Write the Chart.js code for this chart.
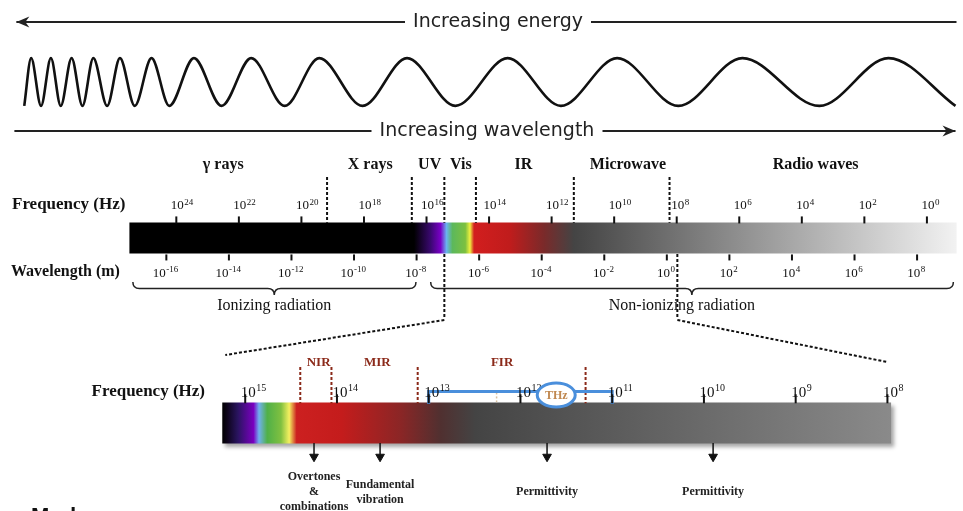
<!DOCTYPE html>
<html>
<head>
<meta charset="utf-8">
<script src="https://cdn.jsdelivr.net/npm/chart.js@4.4.1/dist/chart.umd.min.js"></script>
<style>
  html, body { margin: 0; padding: 0; background: #fff; }
  canvas { display: block; }
</style>
</head>
<body>
<canvas id="spectre" width="963" height="511"></canvas>
<script>
// --- data ---
// upper strip : decades in log10 Hz / log10 m
const freqTicks = [24, 22, 20, 18, 16, 14, 12, 10, 8, 6, 4, 2, 0];
const wavelengthTicks = [-16, -14, -12, -10, -8, -6, -4, -2, 0, 2, 4, 6, 8];
const bandNames = ['γ rays', 'X rays', 'UV', 'Vis', 'IR', 'Microwave', 'Radio waves'];
const bandCenters = [22.5, 17.8, 15.9, 14.9, 12.9, 9.56, 3.56];
const bandEdges = [19.18, 16.47, 15.43, 14.42, 11.29, 8.23];
const spectrumRange = [25.5, -0.95];
const spectrumStops = [25.5, 16.4, 15.87, 15.55, 15.36, 15.17, 14.76, 14.61, 14.48, 13.34, 12.24, 11.29, -0.95];
const zoomFrom = [15.43, 7.98];
const radiationNames = ['Ionizing radiation', 'Non-ionizing radiation'];
const ionizing = [-17.07, -8.02, -12.55];
const nonIonizing = [-7.55, 9.16, 0.8];

// lower strip (magnified), log10 Hz
const zoomTicks = [15, 14, 13, 12, 11, 10, 9, 8];
const zoomRange = [15.25, 7.96];
const zoomStops = [15.25, 15.2, 15.08, 14.91, 14.85, 14.76, 14.61, 14.52, 14.44, 13.95, 13.3, 12.87, 12.49, 7.96];
const irNames = ['NIR', 'MIR', 'FIR'];
const irCenters = [14.2, 13.56, 12.2];
const irEdges = [14.4, 14.06, 13.12, 11.29];
const thzRange = [13, 11];
const thzCenter = 11.61;
const thzFaint = 12.26;
const modeAt = [14.25, 13.53, 11.71, 9.9];
const modeNames = [['Overtones', '&', 'combinations'], ['Fundamental', 'vibration'], ['Permittivity'], ['Permittivity']];

// the wave : crest (1) and trough (0) positions across the page
const waveX = [18, 25, 35, 45, 55, 66, 77, 88, 102, 115, 130, 147, 165, 190, 218, 248, 282, 317, 361, 406, 455, 508, 562, 619, 681, 746, 824, 894, 962];
const waveLevel = [0, 1, 0, 1, 0, 1, 0, 1, 0, 1, 0, 1, 0, 1, 0, 1, 0, 1, 0, 1, 0, 1, 0, 1, 0, 1, 0, 1, 0];

// --- styles ---
const spectrumColors = ['#000', '#000', '#3a0870', '#7a00c8', '#6ab4f0', '#5cb85c', '#7cc040', '#f0f040', '#d21e1e', '#c01c1c', '#7a2a2a', '#444', '#f2f2f2'];
const zoomColors = ['#000', '#0c0418', '#2a1460', '#7a00c0', '#70b0f0', '#50b048', '#80c040', '#f4f060', '#cc2020', '#c41c1c', '#8a2626', '#503030', '#444', '#8a8a8a'];
const serif = '"Liberation Serif", "Times New Roman", serif';
const sans = '"DejaVu Sans", Verdana, sans-serif';
const brown = '#8b2a1a';
const blue = '#4a8fdc';

// rangées verticales (px depuis le haut)
const row = {
  energy: 22, waveTop: 53, waveBottom: 102, length: 131,
  bandLabel: 165, dashTop: 175, freqBase: 209, freqTick: 219,
  barTop: 222, barBottom: 253, waveTick: 257.5, waveBase: 277,
  braceTop: 282, braceLabel: 306, linkEnd: 320,
  zoomLeftY: 355, zoomRightY: 362,
  irLabel: 363, irTop: 370, thz: 395, zoomFreqBase: 397, zoomTick: 402.5,
  zoomTop: 407, zoomBottom: 448, arrowEnd: 462, modeLabel: 492
};

// gradient along a scale
function gradient(chart, scaleId, stops, colors) {
  const s = chart.scales[scaleId];
  if (!s || !chart.chartArea) return colors[0];
  const a = s.getPixelForValue(stops[0]);
  const b = s.getPixelForValue(stops[stops.length - 1]);
  const g = chart.ctx.createLinearGradient(a, 0, b, 0);
  stops.forEach((v, i) => g.addColorStop(Math.min(1, Math.max(0, (s.getPixelForValue(v) - a) / (b - a))), colors[i]));
  return g;
}

// segments verticaux séparés par des null
function verticals(xs, y0, y1) {
  return xs.flatMap(x => [{ x, y: y0 }, { x, y: y1 }, { x, y: null }]);
}

const datasets = [
  {
    label: 'spectrum', xAxisID: 'xf', order: 10,
    data: spectrumRange.map(x => ({ x, y: (row.barTop + row.barBottom) / 2 })),
    borderWidth: row.barBottom - row.barTop, borderCapStyle: 'butt', pointRadius: 0,
    borderColor: c => gradient(c.chart, 'xf', spectrumStops, spectrumColors)
  },
  {
    label: 'zoom', xAxisID: 'xl', order: 10, shadow: true,
    data: zoomRange.map(x => ({ x, y: (row.zoomTop + row.zoomBottom) / 2 })),
    borderWidth: row.zoomBottom - row.zoomTop, borderCapStyle: 'butt', pointRadius: 0,
    borderColor: c => gradient(c.chart, 'xl', zoomStops, zoomColors)
  },
  {
    label: 'wave', xAxisID: 'xp', order: 5,
    data: waveX.map((x, i) => ({ x, y: row.waveBottom - (row.waveBottom - row.waveTop) * waveLevel[i] })),
    borderColor: '#111', borderWidth: 2.6, pointRadius: 0, cubicInterpolationMode: 'monotone'
  },
  {
    label: 'freq ticks', xAxisID: 'xf', order: 1, showLine: false,
    data: freqTicks.map(x => ({ x, y: row.freqTick })),
    pointStyle: 'line', rotation: 90, radius: 3.5, borderWidth: 2, borderColor: '#111'
  },
  {
    label: 'wavelength ticks', xAxisID: 'xw', order: 1, showLine: false,
    data: wavelengthTicks.map(x => ({ x, y: row.waveTick })),
    pointStyle: 'line', rotation: 90, radius: 3, borderWidth: 2, borderColor: '#111'
  },
  {
    label: 'zoom ticks', xAxisID: 'xl', order: 1, showLine: false,
    data: zoomTicks.map(x => ({ x, y: row.zoomTick })),
    pointStyle: 'line', rotation: 90, radius: 4.5, borderWidth: 2, borderColor: '#111'
  },
  {
    label: 'band edges', xAxisID: 'xf', order: 2,
    data: verticals(bandEdges, row.dashTop, row.barTop),
    borderColor: '#111', borderWidth: 2, borderDash: [3, 2], pointRadius: 0, spanGaps: false
  },
  {
    label: 'zoom link', xAxisID: 'xf', order: 2,
    data: verticals(zoomFrom, row.barBottom + 1, row.linkEnd),
    borderColor: '#111', borderWidth: 2, borderDash: [3, 2], pointRadius: 0, spanGaps: false
  },
  {
    label: 'ir edges', xAxisID: 'xl', order: 2,
    data: verticals(irEdges, row.irTop, row.zoomTop),
    borderColor: brown, borderWidth: 2, borderDash: [3, 2], pointRadius: 0, spanGaps: false
  },
  {
    label: 'thz faint', xAxisID: 'xl', order: 2,
    data: verticals([thzFaint], row.thz + 1, row.zoomTop - 1),
    borderColor: '#d8c0a0', borderWidth: 1.5, borderDash: [2, 2], pointRadius: 0
  },
  {
    label: 'THz', xAxisID: 'xl', order: 1,
    data: [{ x: thzRange[0], y: row.zoomTop + 1 }, { x: thzRange[0], y: row.thz }, { x: thzRange[1], y: row.thz }, { x: thzRange[1], y: row.zoomTop + 1 }],
    borderColor: blue, borderWidth: 3, pointRadius: 0
  },
  {
    label: 'mode arrows', xAxisID: 'xl', order: 1,
    data: verticals(modeAt, row.zoomBottom, row.arrowEnd - 2),
    borderColor: '#111', borderWidth: 1.5, pointRadius: 0, spanGaps: false
  },
  {
    label: 'mode heads', xAxisID: 'xl', order: 1, showLine: false,
    data: modeAt.map(x => ({ x, y: row.arrowEnd })),
    pointStyle: 'triangle', rotation: 180, radius: 5, backgroundColor: '#111', borderColor: '#111', borderWidth: 1
  }
];

function power(ctx, x, yb, e, base, sup, raise, centerOnTen) {
  ctx.font = `${base}px ${serif}`;
  const w1 = ctx.measureText('10').width;
  ctx.font = `${sup}px ${serif}`;
  const es = String(e);
  const w2 = ctx.measureText(es).width;
  const x0 = centerOnTen ? x - w1 / 2 : x - (w1 + w2) / 2;
  ctx.textAlign = 'left';
  ctx.textBaseline = 'alphabetic';
  ctx.font = `${base}px ${serif}`;
  ctx.fillText('10', x0, yb);
  ctx.font = `${sup}px ${serif}`;
  ctx.fillText(es, x0 + w1 + 0.5, yb - raise);
}

function label(ctx, s, x, y, font, color, align) {
  ctx.font = font;
  ctx.fillStyle = color || '#111';
  ctx.textAlign = align || 'center';
  ctx.textBaseline = 'middle';
  ctx.fillText(s, x, y);
}

function brace(ctx, x1, x2, xm, y, h) {
  const r = h / 2;
  ctx.beginPath();
  ctx.moveTo(x1, y);
  ctx.quadraticCurveTo(x1, y + r, x1 + r, y + r);
  ctx.lineTo(xm - r, y + r);
  ctx.quadraticCurveTo(xm, y + r, xm, y + h);
  ctx.quadraticCurveTo(xm, y + r, xm + r, y + r);
  ctx.lineTo(x2 - r, y + r);
  ctx.quadraticCurveTo(x2, y + r, x2, y);
  ctx.stroke();
}

// flèche horizontale avec texte au milieu
function arrowText(ctx, s, x1, x2, cx, y, width, dir) {
  ctx.strokeStyle = '#222';
  ctx.fillStyle = '#222';
  ctx.lineWidth = 2;
  ctx.font = `20px ${sans}`;
  const size = 20 * width / ctx.measureText(s).width;
  ctx.font = `${size}px ${sans}`;
  ctx.beginPath();
  ctx.moveTo(x1, y);
  ctx.lineTo(cx - width / 2 - 8, y);
  ctx.moveTo(cx + width / 2 + 8, y);
  ctx.lineTo(x2, y);
  ctx.stroke();
  const tip = dir < 0 ? x1 : x2;
  ctx.beginPath();
  ctx.moveTo(tip, y);
  ctx.lineTo(tip - dir * 13, y - 5.5);
  ctx.lineTo(tip - dir * 9, y);
  ctx.lineTo(tip - dir * 13, y + 5.5);
  ctx.closePath();
  ctx.fill();
  ctx.textAlign = 'center';
  ctx.textBaseline = 'middle';
  ctx.fillText(s, cx, y);
}

const diagram = {
  id: 'diagram',
  beforeDatasetDraw(chart, args) {
    if (chart.data.datasets[args.index].shadow) {
      const c = chart.ctx;
      c.save();
      c.shadowColor = 'rgba(0,0,0,0.35)';
      c.shadowOffsetX = 3;
      c.shadowOffsetY = 3;
      c.shadowBlur = 4;
    }
  },
  afterDatasetDraw(chart, args) {
    if (chart.data.datasets[args.index].shadow) chart.ctx.restore();
  },
  afterDatasetsDraw(chart) {
    const { ctx } = chart;
    const { xp, xf, xw, xl } = chart.scales;
    ctx.save();

    // flèches du haut
    arrowText(ctx, 'Increasing energy', xp.getPixelForValue(10), xp.getPixelForValue(963), 498, row.energy, 170, -1);
    arrowText(ctx, 'Increasing wavelength', xp.getPixelForValue(8), xp.getPixelForValue(962), 487, row.length, 215, 1);

    // noms des bandes
    bandNames.forEach((n, i) => label(ctx, n, xf.getPixelForValue(bandCenters[i]), row.bandLabel, `bold 16px ${serif}`));

    // titres d'axes
    label(ctx, 'Frequency (Hz)', 12, 205, `bold 17px ${serif}`, '#111', 'left');
    label(ctx, 'Wavelength (m)', 11, 272, `bold 16px ${serif}`, '#111', 'left');
    label(ctx, 'Frequency (Hz)', 205, 392, `bold 17px ${serif}`, '#111', 'right');

    ctx.fillStyle = '#111';
    freqTicks.forEach(e => power(ctx, xf.getPixelForValue(e) + 1, row.freqBase, e, 13, 9, 4.5, true));
    wavelengthTicks.forEach(e => power(ctx, xw.getPixelForValue(e) - 1, row.waveBase, e, 13, 9, 5, false));
    zoomTicks.forEach(e => power(ctx, xl.getPixelForValue(e) + 3, row.zoomFreqBase, e, 15, 10, 6, true));

    // accolades
    ctx.strokeStyle = '#222';
    ctx.lineWidth = 1.5;
    brace(ctx, xw.getPixelForValue(ionizing[0]), xw.getPixelForValue(ionizing[1]), xw.getPixelForValue(ionizing[2]), row.braceTop, 13);
    brace(ctx, xw.getPixelForValue(nonIonizing[0]), xw.getPixelForValue(nonIonizing[1]), xw.getPixelForValue(nonIonizing[2]), row.braceTop, 13);
    label(ctx, radiationNames[0], xw.getPixelForValue(ionizing[2]), row.braceLabel, `16px ${serif}`);
    label(ctx, radiationNames[1], xw.getPixelForValue(nonIonizing[2]) - 10, row.braceLabel, `16px ${serif}`);

    // liens pointillés vers le zoom
    ctx.setLineDash([3, 2]);
    ctx.lineWidth = 2;
    ctx.strokeStyle = '#111';
    ctx.beginPath();
    ctx.moveTo(xf.getPixelForValue(zoomFrom[0]), row.linkEnd);
    ctx.lineTo(xl.getPixelForValue(zoomRange[0]) + 3, row.zoomLeftY);
    ctx.moveTo(xf.getPixelForValue(zoomFrom[1]), row.linkEnd);
    ctx.lineTo(xl.getPixelForValue(zoomRange[1]) - 4, row.zoomRightY);
    ctx.stroke();
    ctx.setLineDash([]);

    // NIR / MIR / FIR
    irNames.forEach((n, i) => label(ctx, n, xl.getPixelForValue(irCenters[i]), row.irLabel, `bold 13px ${serif}`, brown));

    // THz
    const tx = xl.getPixelForValue(thzCenter);
    ctx.beginPath();
    ctx.ellipse(tx, row.thz, 19, 12, 0, 0, Math.PI * 2);
    ctx.fillStyle = '#fff';
    ctx.fill();
    ctx.strokeStyle = blue;
    ctx.lineWidth = 3;
    ctx.stroke();
    label(ctx, 'THz', tx, row.thz + 1, `bold 12px ${serif}`, '#c08850');

    // modes
    modeNames.forEach((lines, i) => {
      const x = xl.getPixelForValue(modeAt[i]);
      const y0 = row.modeLabel - (lines.length - 1) * 15 / 2;
      lines.forEach((s, j) => label(ctx, s, x, y0 + j * 15, `bold 12px ${serif}`, '#222'));
    });

    // bas de page coupé
    ctx.font = 'bold 22px "Liberation Sans", Arial, sans-serif';
    ctx.fillStyle = '#111';
    ctx.textAlign = 'left';
    ctx.textBaseline = 'alphabetic';
    ctx.fillText('Mode', 31, 523);

    ctx.restore();
  }
};

new Chart(document.getElementById('spectre'), {
  type: 'line',
  data: { datasets },
  options: {
    responsive: false,
    animation: false,
    devicePixelRatio: 1,
    layout: { padding: 0 },
    plugins: { legend: { display: false }, tooltip: { enabled: false } },
    elements: { line: { tension: 0 } },
    datasets: { line: { clip: false } },
    scales: {
      xp: { type: 'linear', axis: 'x', min: 0, max: 963, display: false },
      xf: { type: 'linear', axis: 'x', min: -0.946, max: 29.43, reverse: true, display: false },
      xw: { type: 'linear', axis: 'x', min: -21.11, max: 9.26, display: false },
      xl: { type: 'linear', axis: 'x', min: 7.247, max: 17.602, reverse: true, display: false },
      y: { type: 'linear', min: 0, max: 511, reverse: true, display: false }
    }
  },
  plugins: [diagram]
});
</script>
</body>
</html>
